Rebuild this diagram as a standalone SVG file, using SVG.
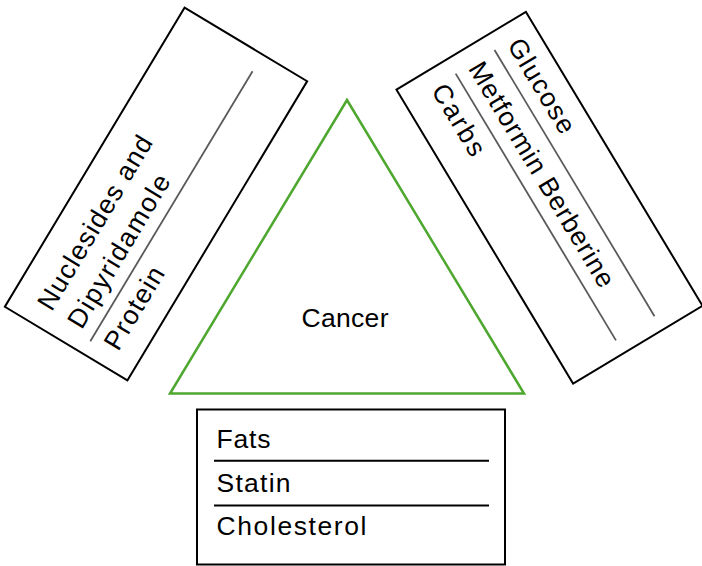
<svg xmlns="http://www.w3.org/2000/svg" width="702" height="566" viewBox="0 0 702 566">
<style>
.box{fill:#fff;stroke:#000;stroke-width:2}
.sep{stroke:#000;stroke-width:2}
.gsep{stroke:#5a5a5a;stroke-width:1.8}
.t{font-family:"Liberation Sans",Arial,sans-serif;font-size:26.5px;fill:#000}
.tri{fill:none;stroke:#4EA72E;stroke-width:2.5;stroke-linejoin:miter}
</style>
<rect width="702" height="566" fill="#fff"/>
<g id="cancer">
<polygon class="tri" points="347,100 170,393.5 524,393.5"/>
<text class="t" x="301.5" y="327" textLength="87" lengthAdjust="spacing">Cancer</text>
</g>
<g id="left-box" transform="translate(156,194) rotate(-59)">
<rect class="box" x="-174.5" y="-71.5" width="349" height="143"/>
<line class="gsep" x1="-160" y1="19.5" x2="155" y2="19.5"/>
<text class="t" x="-155" y="-28.5" textLength="198" lengthAdjust="spacing">Nuclesides and</text>
<text class="t" x="-155" y="6.5" textLength="174" lengthAdjust="spacing">Dipyridamole</text>
<text class="t" x="-155" y="49" textLength="92" lengthAdjust="spacing">Protein</text>
</g>
<g id="right-box" transform="translate(549.5,197.75) rotate(59)">
<rect class="box" x="-171.5" y="-75.5" width="343" height="151"/>
<line class="gsep" x1="-155" y1="-29" x2="155.6" y2="-29"/>
<line class="gsep" x1="-154.7" y1="16.5" x2="156.5" y2="16.5"/>
<text class="t" x="-153" y="-42" textLength="106" lengthAdjust="spacing">Glucose</text>
<text class="t" x="-153" y="3.5" textLength="258" lengthAdjust="spacing">Metformin Berberine</text>
<text class="t" x="-153" y="46.5" textLength="79" lengthAdjust="spacing">Carbs</text>
</g>
<g id="bottom-box">
<rect class="box" x="197" y="409.5" width="308" height="155"/>
<line class="sep" x1="214" y1="460.7" x2="489" y2="460.7"/>
<line class="sep" x1="214" y1="505.5" x2="489" y2="505.5"/>
<text class="t" x="216.5" y="447.7" textLength="54" lengthAdjust="spacing">Fats</text>
<text class="t" x="216.5" y="492.3" textLength="74" lengthAdjust="spacing">Statin</text>
<text class="t" x="216.5" y="535" textLength="150" lengthAdjust="spacing">Cholesterol</text>
</g>
</svg>
